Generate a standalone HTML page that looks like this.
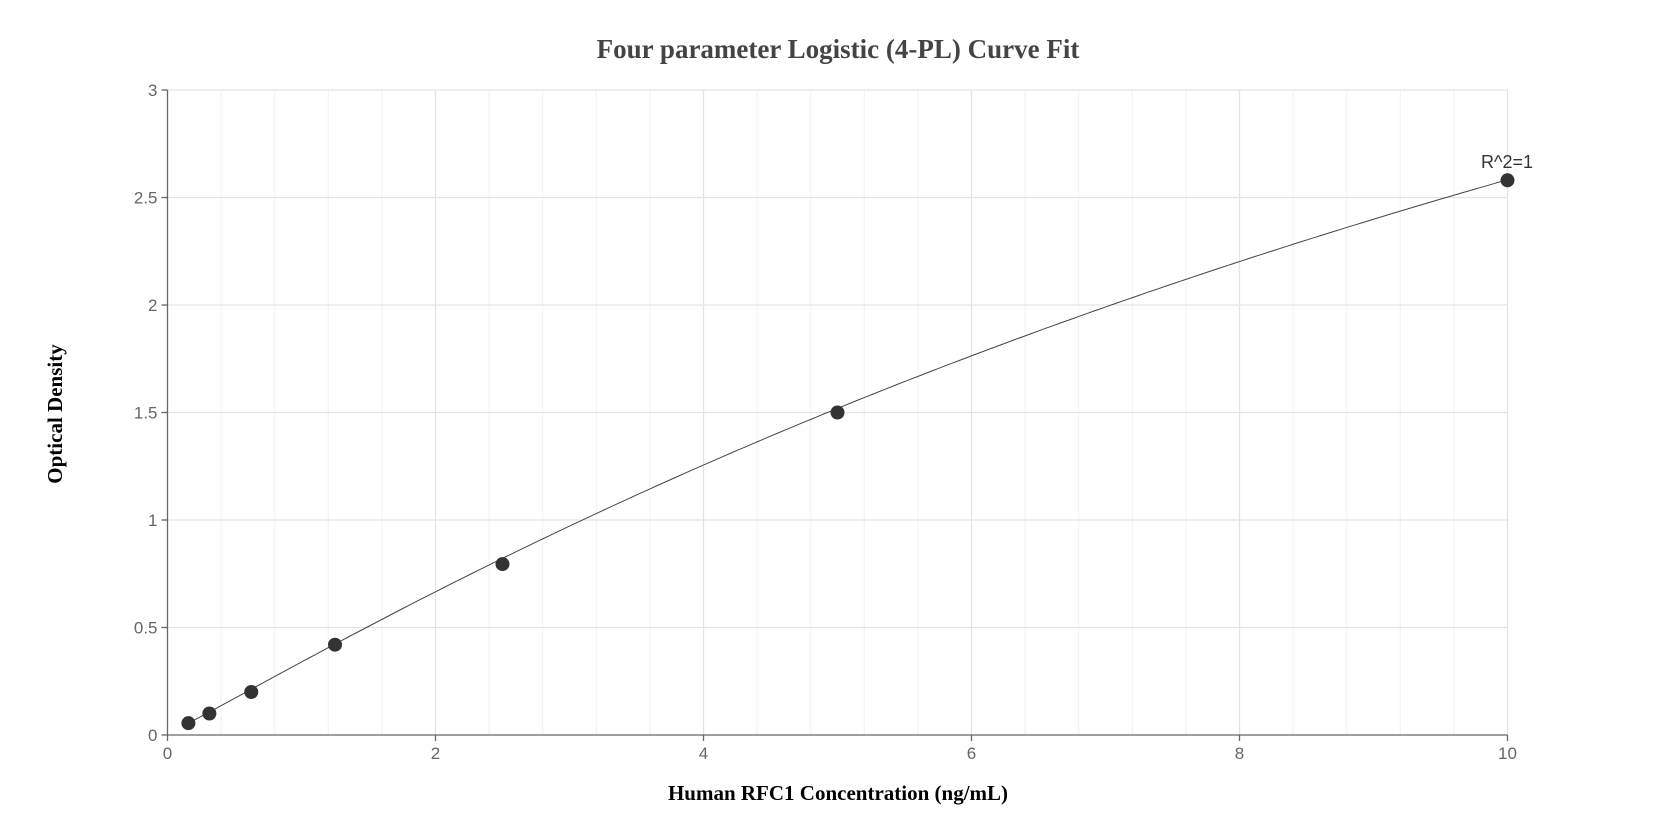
<!DOCTYPE html><html><head><style>body{margin:0;background:#fff}svg{display:block}</style></head><body>
<svg id="s" width="1675" height="840" xmlns="http://www.w3.org/2000/svg">
<g id="grid"></g>
<g stroke="#666" stroke-width="1.3" id="ax"></g>
<g id="lab" font-family="Liberation Sans, sans-serif" font-size="17" fill="#666"></g>
<path id="curve" fill="none" stroke="#444" stroke-width="1"/>
<g id="pts" fill="#333"></g>
<text x="1507" y="168" font-family="Liberation Sans, sans-serif" font-size="18" fill="#333" text-anchor="middle">R^2=1</text>
<text x="838" y="58" font-family="Liberation Serif, serif" font-weight="bold" font-size="27" fill="#444" text-anchor="middle">Four parameter Logistic (4-PL) Curve Fit</text>
<text x="838" y="800" font-family="Liberation Serif, serif" font-weight="bold" font-size="21" fill="#000" text-anchor="middle">Human RFC1 Concentration (ng/mL)</text>
<text transform="translate(62,414) rotate(-90)" font-family="Liberation Serif, serif" font-weight="bold" font-size="21" fill="#000" text-anchor="middle">Optical Density</text>
</svg>
<script>
var L=167.5,R=1507.5,T=90,B=735,NS="http://www.w3.org/2000/svg";
function X(x){return L+x*(R-L)/10}function Y(y){return B-y*(B-T)/3}
function el(p,t,a,txt){var e=document.createElementNS(NS,t);for(var k in a)e.setAttribute(k,a[k]);if(txt!=null)e.textContent=txt;document.getElementById(p).appendChild(e);}
for(var i=1;i<=25;i++){if(i%5==0)continue;var x=X(i*0.4);el('grid','line',{x1:x,y1:T,x2:x,y2:B,stroke:'#f0f1f6','stroke-width':1});}
for(var i=1;i<=5;i++){var x=X(i*2);el('grid','line',{x1:x,y1:T,x2:x,y2:B,stroke:'#e0e3ee','stroke-width':1.3});}
for(var i=1;i<=6;i++){var y=Y(i*0.5);el('grid','line',{x1:L,y1:y,x2:R,y2:y,stroke:'#e0e3ee','stroke-width':1.3});}
el('ax','line',{x1:L,y1:T,x2:L,y2:B});el('ax','line',{x1:L,y1:B,x2:R,y2:B});
for(var i=0;i<=6;i++){var y=Y(i*0.5);el('ax','line',{x1:L-6,y1:y,x2:L,y2:y});el('lab','text',{x:L-10,y:y+6,'text-anchor':'end'},String(i*0.5));}
for(var i=0;i<=5;i++){var x=X(i*2);el('ax','line',{x1:x,y1:B,x2:x,y2:B+6});el('lab','text',{x:x,y:B+24,'text-anchor':'middle'},String(i*2));}
function f(x){return 7.5+(0.005-7.5)/(1+Math.pow(x/18.5,1.05));}
var d='';for(var x=0.156;x<=10.0001;x+=0.05){d+=(d?'L':'M')+X(x).toFixed(1)+','+Y(f(x)).toFixed(1);}
d+='L'+X(10)+','+Y(2.58);document.getElementById('curve').setAttribute('d',d);
[[0.156,0.055],[0.3125,0.1],[0.625,0.2],[1.25,0.42],[2.5,0.795],[5,1.5],[10,2.58]].forEach(function(p){el('pts','circle',{cx:X(p[0]),cy:Y(p[1]),r:7});});
</script>
</body></html>
